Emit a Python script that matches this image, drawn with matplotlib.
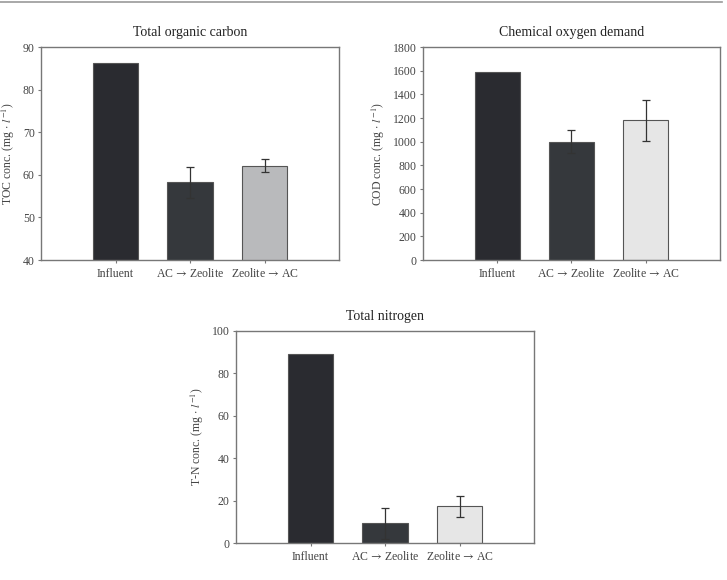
import matplotlib
matplotlib.use('Agg')
from matplotlib import pyplot as plt
from matplotlib.lines import Line2D

plt.rcParams['font.family'] = ['Liberation Serif', 'DejaVu Serif']
plt.rcParams['mathtext.fontset'] = 'stix'

# Data
categories = ['Influent', r'AC$\,\rightarrow\,$Zeolite', r'Zeolite$\,\rightarrow\,$AC']

toc_values = [86.2, 58.2, 62.1]
toc_errors = [0, 3.6, 1.5]

cod_values = [1592, 1001, 1180]
cod_errors = [0, 95, 175]

tn_values = [89.0, 9.4, 17.4]
tn_errors = [0, 7.3, 4.8]

text_col = '#444444'
edge_col = '#777777'

panels = [
    dict(pos=[0.0564, 0.5517, 0.41, 0.3672], title='Total organic carbon',
         vals=toc_values, errs=toc_errors, ylim=(40, 90), ticks=range(40, 91, 10),
         ylabel=r'TOC conc. (mg $\cdot$ $\it{l}^{-1}$)',
         colors=['#2a2b30', '#35383c', '#b9babc']),
    dict(pos=[0.5818, 0.5517, 0.4085, 0.3672], title='Chemical oxygen demand',
         vals=cod_values, errs=cod_errors, ylim=(0, 1800), ticks=range(0, 1801, 200),
         ylabel=r'COD conc. (mg $\cdot$ $\it{l}^{-1}$)',
         colors=['#2a2b30', '#35383c', '#e6e6e6']),
    dict(pos=[0.3246, 0.0633, 0.41, 0.3665], title='Total nitrogen',
         vals=tn_values, errs=tn_errors, ylim=(0, 100), ticks=range(0, 101, 20),
         ylabel=r'T-N conc. (mg $\cdot$ $\it{l}^{-1}$)',
         colors=['#2a2b30', '#35383c', '#e6e6e6']),
]

fig = plt.figure(figsize=(7.27, 5.80), dpi=100)

# thin rule across the top
fig.add_artist(Line2D([0.0, 0.993], [0.996, 0.996], color='#999999', lw=1.2))

for p in panels:
    ax = fig.add_axes(p['pos'])
    x = range(len(categories))
    ax.bar(x, p['vals'], width=0.61, color=p['colors'], edgecolor='#555555',
           linewidth=0.8, zorder=2)
    for xi, v, e in zip(x, p['vals'], p['errs']):
        if e > 0:
            ax.errorbar(xi, v, yerr=e, fmt='none', ecolor='#333333',
                        elinewidth=0.9, capsize=3, capthick=0.9, zorder=3)
    ax.set_xlim(-1, 3)
    ax.set_ylim(*p['ylim'])
    ax.set_yticks(list(p['ticks']))
    ax.set_xticks(list(x))
    ax.set_xticklabels(categories)
    for lab in ax.get_xticklabels():
        lab.set_verticalalignment('baseline')
    ax.set_title(p['title'], fontsize=10, color='#222222', pad=8)
    ax.set_ylabel(p['ylabel'], fontsize=8.5, color=text_col, labelpad=4)
    ax.tick_params(axis='both', direction='out', length=2.5, width=0.8,
                   colors=edge_col, labelcolor=text_col, labelsize=8.5, pad=2)
    ax.tick_params(axis='x', pad=9.5)
    for s in ax.spines.values():
        s.set_color(edge_col)
        s.set_linewidth(1.0)

fig.savefig('out.png', dpi=100)
